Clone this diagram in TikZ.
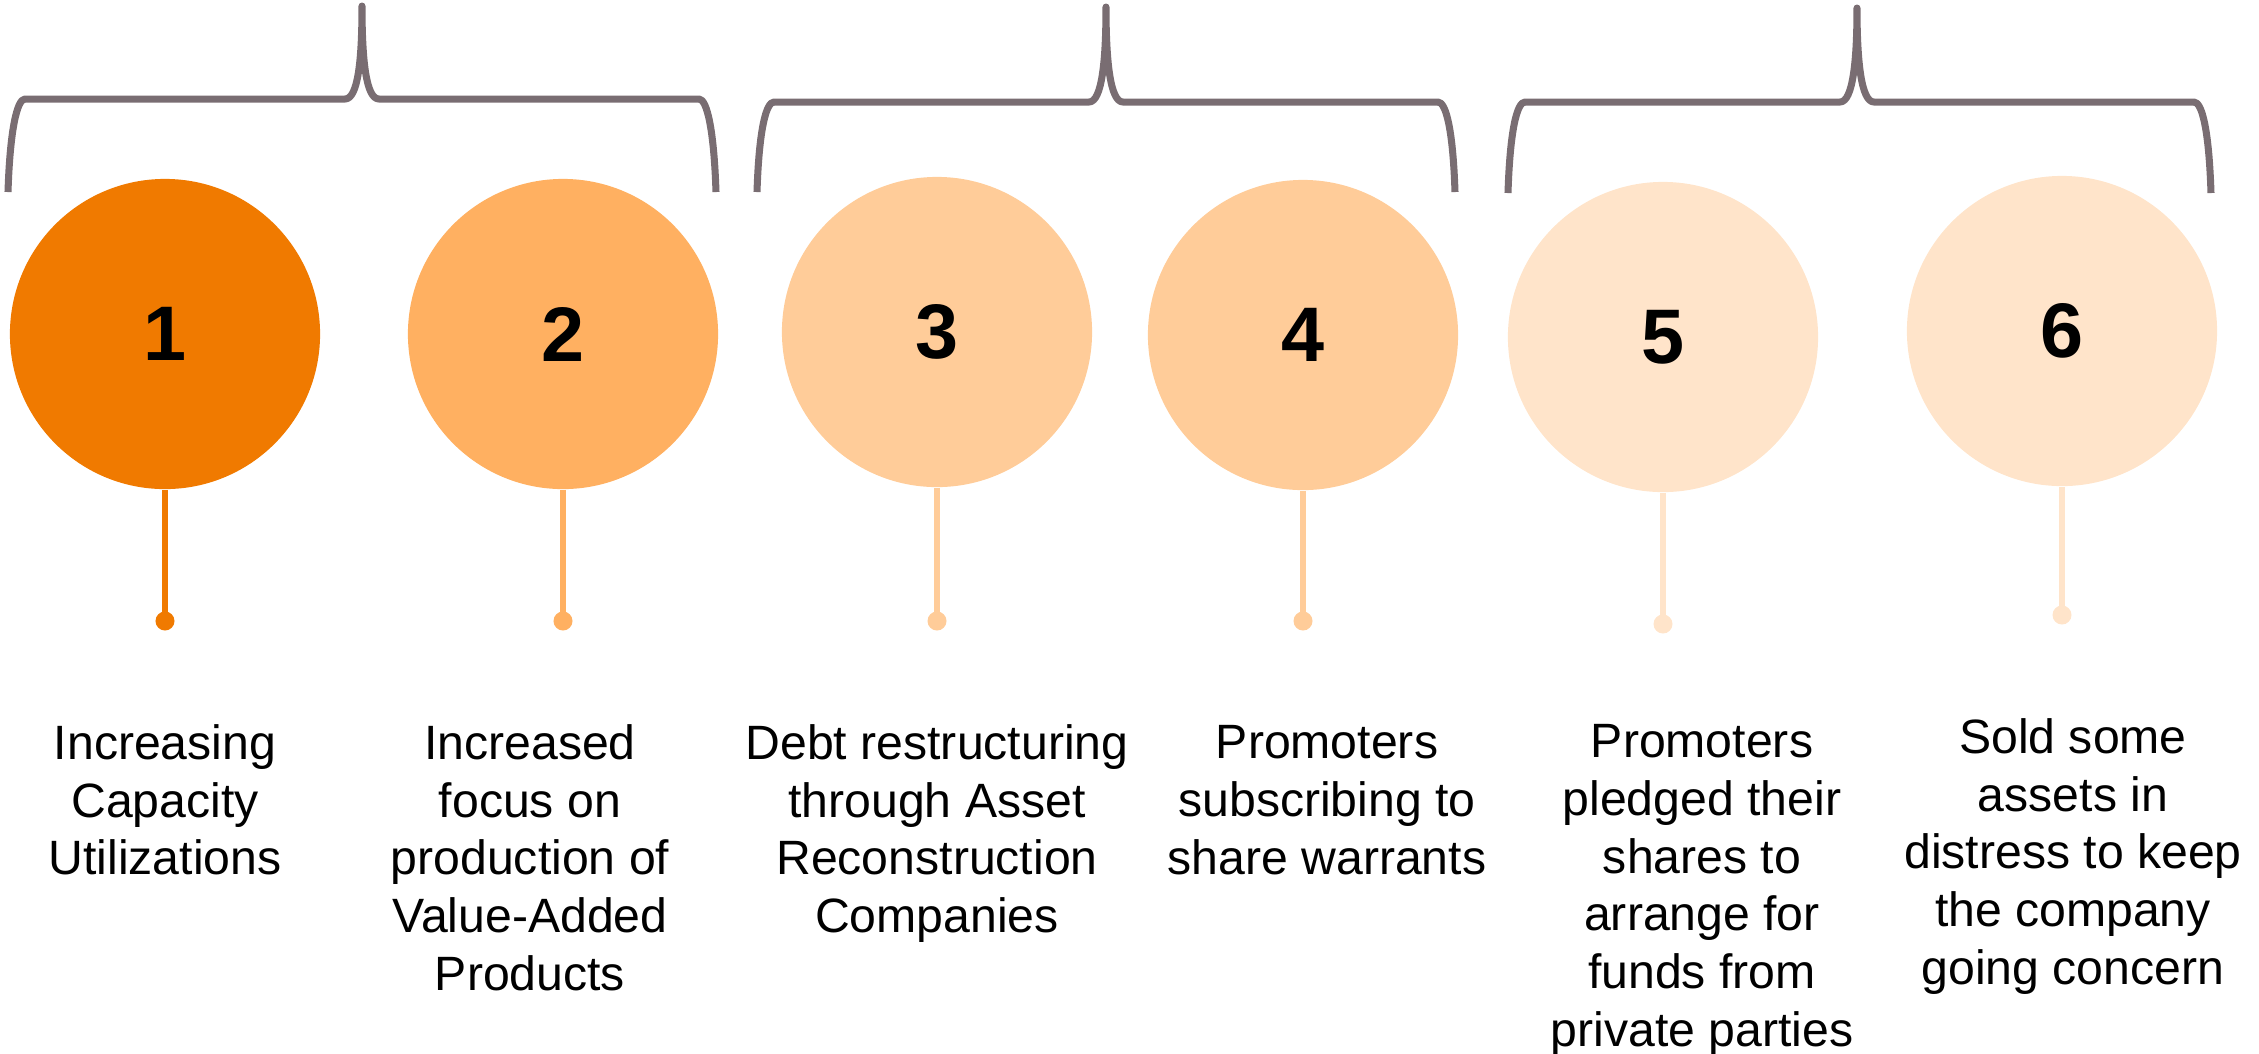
\documentclass[tikz,border=0pt]{standalone}
\usepackage{fontspec}
\setmainfont{Liberation Sans}
\definecolor{braceclr}{RGB}{121,109,114}
\definecolor{toneA}{RGB}{240,122,0}
\definecolor{toneB}{RGB}{255,176,97}
\definecolor{toneC}{RGB}{255,204,153}
\definecolor{toneD}{RGB}{255,228,202}
\begin{document}
\begin{tikzpicture}[x=0.01cm,y=-0.01cm,
  disc/.style={circle,minimum size=3.1cm,inner sep=0pt,
    font=\fontsize{22pt}{26pt}\selectfont\bfseries},
  knob/.style={circle,minimum size=0.19cm,inner sep=0pt},
  stem/.style={line width=1.7pt},
  desc/.style={anchor=north,align=center,inner sep=0pt,
    font=\fontsize{13.7pt}{16.4pt}\selectfont},
  bracket/.style={draw=braceclr,line width=2pt,line join=round,line cap=butt}]
\useasboundingbox (0,0) rectangle (2259,1053);

% curly brackets grouping the steps in pairs
\foreach \L/\T/\R/\yb/\yt/\ybt in {8/362/716/99/6/192, 757/1106/1455/102/7/192, 1508/1857/2211/102/8/193}
  \draw[bracket] (\L,\ybt) .. controls (\L+2,130) and (\L+9,\yb) .. (\L+17,\yb)
    -- (\T-17,\yb) .. controls (\T-4,\yb) and (\T,60) .. (\T,\yt)
    .. controls (\T,60) and (\T+4,\yb) .. (\T+17,\yb)
    -- (\R-17,\yb) .. controls (\R-9,\yb) and (\R-2,130) .. (\R,\ybt);

% numbered discs
\node[disc,fill=toneA] (c1) at (165,334) {1};
\node[disc,fill=toneB] (c2) at (563,334) {2};
\node[disc,fill=toneC] (c3) at (937,332) {3};
\node[disc,fill=toneC] (c4) at (1303,335) {4};
\node[disc,fill=toneD] (c5) at (1663,337) {5};
\node[disc,fill=toneD] (c6) at (2062,331) {6};

% pin ends
\node[knob,fill=toneA] (d1) at (165,621) {};
\node[knob,fill=toneB] (d2) at (563,621) {};
\node[knob,fill=toneC] (d3) at (937,621) {};
\node[knob,fill=toneC] (d4) at (1303,621) {};
\node[knob,fill=toneD] (d5) at (1663,624) {};
\node[knob,fill=toneD] (d6) at (2062,615) {};

% stems
\draw[stem,toneA] (c1.south) -- (d1.center);
\draw[stem,toneB] (c2.south) -- (d2.center);
\draw[stem,toneC] (c3.south) -- (d3.center);
\draw[stem,toneC] (c4.south) -- (d4.center);
\draw[stem,toneD] (c5.south) -- (d5.center);
\draw[stem,toneD] (c6.south) -- (d6.center);

% descriptions
\node[desc] (t1) at (165,724) {Increasing\\Capacity\\Utilizations};
\node[desc] (t2) at (530,724) {Increased\\focus on\\production of\\Value-Added\\Products};
\node[desc] (t3) at (937,724) {Debt restructuring\\through Asset\\Reconstruction\\Companies};
\node[desc] (t4) at (1327,725) {Promoters\\subscribing to\\share warrants};
\node[desc] (t5) at (1702,724) {Promoters\\pledged their\\shares to\\arrange for\\funds from\\private parties};
\node[desc] (t6) at (2073,718) {Sold some\\assets in\\distress to keep\\the company\\going concern};
\end{tikzpicture}
\end{document}
